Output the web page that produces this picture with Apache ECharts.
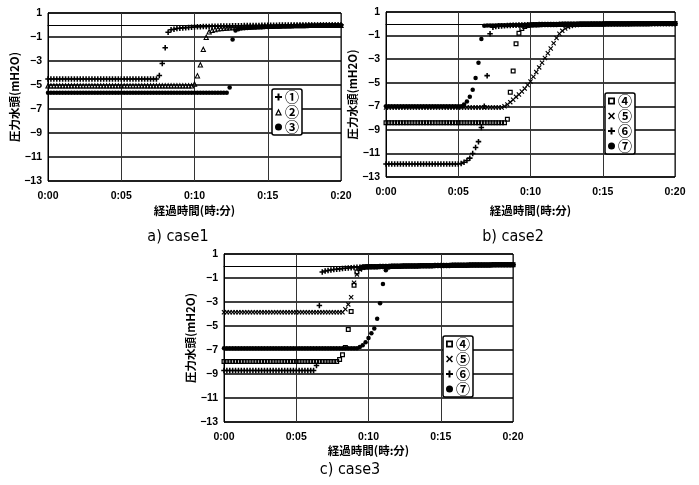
<!DOCTYPE html>
<html><head><meta charset="utf-8">
<script src="https://cdn.jsdelivr.net/npm/echarts@6/dist/echarts.min.js"></script>
<style>html,body{margin:0;padding:0;background:#fff}#c{width:699px;height:485px}</style>
</head><body><div id="c"></div>
<script>
// sample times in minutes (x axis 0:00 - 0:20)
const MINUTES = [
 0,0.2,0.4,0.6,0.8,1,1.2,1.4,1.6,1.8,
 2,2.2,2.4,2.6,2.8,3,3.2,3.4,3.6,3.8,
 4,4.2,4.4,4.6,4.8,5,5.2,5.4,5.6,5.8,
 6,6.2,6.4,6.6,6.8,7,7.2,7.4,7.6,7.8,
 8,8.2,8.4,8.6,8.8,9,9.2,9.4,9.6,9.8,
 10,10.2,10.4,10.6,10.8,11,11.2,11.4,11.6,11.8,
 12,12.2,12.4,12.6,12.8,13,13.2,13.4,13.6,13.8,
 14,14.2,14.4,14.6,14.8,15,15.2,15.4,15.6,15.8,
 16,16.2,16.4,16.6,16.8,17,17.2,17.4,17.6,17.8,
 18,18.2,18.4,18.6,18.8,19,19.2,19.4,19.6,19.8,
 20];
const X_TICKS = ['0:00','0:05','0:10','0:15','0:20'];
const Y_TICKS = [1,-1,-3,-5,-7,-9,-11,-13];

// ---- case1 ----
const C1_S1 = [ // ① +
 -4.5,-4.5,-4.5,-4.5,-4.5,-4.5,-4.5,-4.5,-4.5,-4.5,
 -4.5,-4.5,-4.5,-4.5,-4.5,-4.5,-4.5,-4.5,-4.5,-4.5,
 -4.5,-4.5,-4.5,-4.5,-4.5,-4.5,-4.5,-4.5,-4.5,-4.5,
 -4.5,-4.5,-4.5,-4.5,-4.5,-4.5,-4.5,-4.5,-4.2,-3.2,
 -1.9,-0.6,-0.4,-0.35,-0.3,-0.27,-0.24,-0.22,-0.2,-0.18,
 -0.16,-0.15,-0.14,-0.13,-0.12,-0.12,-0.11,-0.1,-0.1,-0.09,
 -0.09,-0.08,-0.08,-0.07,-0.07,-0.06,-0.06,-0.05,-0.05,-0.05,
 -0.04,-0.04,-0.04,-0.03,-0.03,-0.03,-0.02,-0.02,-0.02,-0.01,
 -0.01,-0.01,-0.01,0,0,0,0,0,0,0.01,
 0.01,0.01,0.01,0.01,0.01,0.01,0.01,0.01,0.01,0.01,
 0.01];
const C1_S2 = [ // ② triangle
 -5.05,-5.05,-5.05,-5.05,-5.05,-5.05,-5.05,-5.05,-5.05,-5.05,
 -5.05,-5.05,-5.05,-5.05,-5.05,-5.05,-5.05,-5.05,-5.05,-5.05,
 -5.05,-5.05,-5.05,-5.05,-5.05,-5.05,-5.05,-5.05,-5.05,-5.05,
 -5.05,-5.05,-5.05,-5.05,-5.05,-5.05,-5.05,-5.05,-5.05,-5.05,
 -5.05,-5.05,-5.05,-5.05,-5.05,-5.05,-5.05,-5.05,-5.05,-5.05,
 -4.9,-4.2,-3.3,-2.0,-1.0,-0.55,-0.42,-0.35,-0.3,-0.27,
 -0.24,-0.22,-0.2,-0.19,-0.18,-0.17,-0.16,-0.15,-0.14,-0.13,
 -0.12,-0.11,-0.1,-0.1,-0.09,-0.08,-0.08,-0.07,-0.06,-0.06,
 -0.05,-0.05,-0.04,-0.04,-0.03,-0.03,-0.02,-0.02,-0.02,-0.01,
 -0.01,-0.01,-0.01,0,0,0,0,0,0,0,
 0];
const C1_S3 = [ // ③ dot
 -5.65,-5.65,-5.65,-5.65,-5.65,-5.65,-5.65,-5.65,-5.65,-5.65,
 -5.65,-5.65,-5.65,-5.65,-5.65,-5.65,-5.65,-5.65,-5.65,-5.65,
 -5.65,-5.65,-5.65,-5.65,-5.65,-5.65,-5.65,-5.65,-5.65,-5.65,
 -5.65,-5.65,-5.65,-5.65,-5.65,-5.65,-5.65,-5.65,-5.65,-5.65,
 -5.65,-5.65,-5.65,-5.65,-5.65,-5.65,-5.65,-5.65,-5.65,-5.65,
 -5.65,-5.65,-5.65,-5.65,-5.65,-5.65,-5.65,-5.65,-5.65,-5.65,
 -5.65,-5.65,-5.2,-1.2,-0.45,-0.35,-0.3,-0.27,-0.25,-0.23,
 -0.21,-0.2,-0.19,-0.18,-0.17,-0.16,-0.15,-0.14,-0.13,-0.12,
 -0.11,-0.1,-0.09,-0.08,-0.07,-0.06,-0.05,-0.05,-0.04,-0.03,
 -0.03,-0.02,-0.02,-0.01,-0.01,0,0,0,0,0,
 0];

// ---- case2 ----
const C2_S4 = [ // ④ square
 -8.4,-8.4,-8.4,-8.4,-8.4,-8.4,-8.4,-8.4,-8.4,-8.4,
 -8.4,-8.4,-8.4,-8.4,-8.4,-8.4,-8.4,-8.4,-8.4,-8.4,
 -8.4,-8.4,-8.4,-8.4,-8.4,-8.4,-8.4,-8.4,-8.4,-8.4,
 -8.4,-8.4,-8.4,-8.4,-8.4,-8.4,-8.4,-8.4,-8.4,-8.4,
 -8.4,-8.4,-8.1,-5.8,-4.0,-1.7,-0.8,-0.4,-0.22,-0.14,
 -0.1,-0.09,-0.08,-0.08,-0.07,-0.07,-0.06,-0.06,-0.05,-0.05,
 -0.05,-0.04,-0.04,-0.04,-0.03,-0.03,-0.03,-0.02,-0.02,-0.02,
 -0.02,-0.02,-0.01,-0.01,-0.01,-0.01,0,0,0,0,
 0,0,0,0,0.01,0.01,0.01,0.01,0.01,0.01,
 0.01,0.01,0.02,0.02,0.02,0.02,0.02,0.02,0.02,0.02,
 0.02];
const C2_S5 = [ // ⑤ cross
 -7.1,-7.1,-7.1,-7.1,-7.1,-7.1,-7.1,-7.1,-7.1,-7.1,
 -7.1,-7.1,-7.1,-7.1,-7.1,-7.1,-7.1,-7.1,-7.1,-7.1,
 -7.1,-7.1,-7.1,-7.1,-7.1,-7.1,-7.1,-7.1,-7.1,-7.1,
 -7.1,-7.1,-7.1,-7.1,-7.1,-7.1,-7.1,-7.1,-7.1,-7.1,
 -7.1,-7.0,-6.85,-6.65,-6.45,-6.2,-6.0,-5.75,-5.5,-5.2,
 -4.9,-4.5,-4.1,-3.7,-3.3,-2.9,-2.5,-2.1,-1.65,-1.2,
 -0.85,-0.6,-0.4,-0.27,-0.18,-0.12,-0.1,-0.08,-0.07,-0.06,
 -0.05,-0.05,-0.04,-0.04,-0.04,-0.03,-0.03,-0.03,-0.02,-0.02,
 -0.02,-0.02,-0.01,-0.01,-0.01,-0.01,0,0,0,0,
 0,0,0,0,0,0.01,0.01,0.01,0.01,0.01,
 0.01];
const C2_S6 = [ // ⑥ plus
 -11.9,-11.9,-11.9,-11.9,-11.9,-11.9,-11.9,-11.9,-11.9,-11.9,
 -11.9,-11.9,-11.9,-11.9,-11.9,-11.9,-11.9,-11.9,-11.9,-11.9,
 -11.9,-11.9,-11.9,-11.9,-11.9,-11.9,-11.85,-11.75,-11.6,-11.4,
 -11.0,-10.5,-10.0,-8.8,-7.0,-4.4,-0.85,-0.3,-0.22,-0.2,
 -0.18,-0.16,-0.15,-0.14,-0.13,-0.12,-0.11,-0.1,-0.1,-0.09,
 -0.09,-0.08,-0.08,-0.07,-0.07,-0.06,-0.06,-0.05,-0.05,-0.05,
 -0.04,-0.04,-0.04,-0.04,-0.04,-0.03,-0.03,-0.03,-0.03,-0.03,
 -0.03,-0.02,-0.02,-0.02,-0.02,-0.02,-0.02,-0.02,-0.02,-0.01,
 -0.01,-0.01,-0.01,-0.01,-0.01,0,0,0,0,0,
 0,0,0,0,0,0,0.01,0.01,0.01,0.01,
 0.01];
const C2_S7 = [ // ⑦ dot
 -7.0,-7.0,-7.0,-7.0,-7.0,-7.0,-7.0,-7.0,-7.0,-7.0,
 -7.0,-7.0,-7.0,-7.0,-7.0,-7.0,-7.0,-7.0,-7.0,-7.0,
 -7.0,-7.0,-7.0,-7.0,-7.0,-7.0,-7.0,-6.85,-6.6,-6.2,
 -5.6,-4.6,-3.3,-1.3,-0.16,-0.15,-0.15,-0.14,-0.14,-0.13,
 -0.13,-0.12,-0.12,-0.11,-0.11,-0.1,-0.1,-0.1,-0.09,-0.09,
 -0.09,-0.08,-0.08,-0.08,-0.07,-0.07,-0.07,-0.06,-0.06,-0.06,
 -0.05,-0.05,-0.05,-0.05,-0.05,-0.04,-0.04,-0.04,-0.04,-0.04,
 -0.04,-0.03,-0.03,-0.03,-0.03,-0.03,-0.02,-0.02,-0.02,-0.02,
 -0.02,-0.01,-0.01,-0.01,-0.01,-0.01,0,0,0,0,
 0,0,0,0,0,0,0,0.01,0.01,0.01,
 0.01];

// ---- case3 ----
const C3_S4 = [ // ④ square
 -7.95,-7.95,-7.95,-7.95,-7.95,-7.95,-7.95,-7.95,-7.95,-7.95,
 -7.95,-7.95,-7.95,-7.95,-7.95,-7.95,-7.95,-7.95,-7.95,-7.95,
 -7.95,-7.95,-7.95,-7.95,-7.95,-7.95,-7.95,-7.95,-7.95,-7.95,
 -7.95,-7.95,-7.95,-7.95,-7.95,-7.95,-7.95,-7.95,-7.95,-7.95,
 -7.8,-7.4,-6.8,-5.3,-3.8,-1.6,-0.5,-0.2,-0.1,-0.07,
 -0.07,-0.07,-0.06,-0.06,-0.05,-0.05,-0.04,-0.04,-0.03,-0.03,
 -0.02,-0.02,-0.01,-0.01,0,0,0.01,0.01,0.02,0.02,
 0.03,0.03,0.03,0.04,0.04,0.04,0.05,0.05,0.05,0.06,
 0.06,0.06,0.07,0.07,0.07,0.08,0.08,0.08,0.08,0.09,
 0.09,0.09,0.09,0.1,0.1,0.1,0.1,0.1,0.11,0.11,
 0.11];
const C3_S5 = [ // ⑤ cross
 -3.85,-3.85,-3.85,-3.85,-3.85,-3.85,-3.85,-3.85,-3.85,-3.85,
 -3.85,-3.85,-3.85,-3.85,-3.85,-3.85,-3.85,-3.85,-3.85,-3.85,
 -3.85,-3.85,-3.85,-3.85,-3.85,-3.85,-3.85,-3.85,-3.85,-3.85,
 -3.85,-3.85,-3.85,-3.85,-3.85,-3.85,-3.85,-3.85,-3.85,-3.85,
 -3.85,-3.85,-3.6,-3.2,-2.6,-1.4,-0.7,-0.3,-0.15,-0.1,
 -0.08,-0.07,-0.06,-0.06,-0.05,-0.05,-0.04,-0.04,-0.03,-0.03,
 -0.02,-0.02,-0.01,-0.01,0,0,0.01,0.01,0.02,0.02,
 0.02,0.03,0.03,0.04,0.04,0.04,0.05,0.05,0.05,0.06,
 0.06,0.06,0.06,0.07,0.07,0.07,0.08,0.08,0.08,0.08,
 0.09,0.09,0.09,0.09,0.1,0.1,0.1,0.1,0.1,0.11,
 0.11];
const C3_S6 = [ // ⑥ plus
 -8.7,-8.7,-8.7,-8.7,-8.7,-8.7,-8.7,-8.7,-8.7,-8.7,
 -8.7,-8.7,-8.7,-8.7,-8.7,-8.7,-8.7,-8.7,-8.7,-8.7,
 -8.7,-8.7,-8.7,-8.7,-8.7,-8.7,-8.7,-8.7,-8.7,-8.7,
 -8.7,-8.7,-8.3,-3.3,-0.5,-0.42,-0.38,-0.34,-0.3,-0.27,
 -0.24,-0.21,-0.19,-0.17,-0.15,-0.13,-0.11,-0.1,-0.09,-0.08,
 -0.07,-0.07,-0.06,-0.06,-0.05,-0.05,-0.04,-0.04,-0.03,-0.03,
 -0.02,-0.02,-0.01,-0.01,0,0,0.01,0.01,0.02,0.02,
 0.03,0.03,0.03,0.04,0.04,0.04,0.05,0.05,0.05,0.06,
 0.06,0.06,0.07,0.07,0.07,0.08,0.08,0.08,0.08,0.09,
 0.09,0.09,0.09,0.1,0.1,0.1,0.1,0.1,0.11,0.11,
 0.11];
const C3_S7 = [ // ⑦ dot
 -6.85,-6.85,-6.85,-6.85,-6.85,-6.85,-6.85,-6.85,-6.85,-6.85,
 -6.85,-6.85,-6.85,-6.85,-6.85,-6.85,-6.85,-6.85,-6.85,-6.85,
 -6.85,-6.85,-6.85,-6.85,-6.85,-6.85,-6.85,-6.85,-6.85,-6.85,
 -6.85,-6.85,-6.85,-6.85,-6.85,-6.85,-6.85,-6.85,-6.85,-6.85,
 -6.85,-6.85,-6.85,-6.85,-6.85,-6.85,-6.85,-6.75,-6.6,-6.35,
 -6.0,-5.6,-5.2,-4.4,-3.1,-1.5,-0.35,-0.12,-0.05,-0.04,
 -0.03,-0.03,-0.02,-0.02,-0.01,0,0,0.01,0.01,0.02,
 0.02,0.03,0.03,0.03,0.04,0.04,0.05,0.05,0.05,0.06,
 0.06,0.06,0.07,0.07,0.07,0.07,0.08,0.08,0.08,0.09,
 0.09,0.09,0.09,0.1,0.1,0.1,0.1,0.1,0.11,0.11,
 0.11];

const LABELS = {a1:'①',a2:'②',a3:'③',b4:'④',b5:'⑤',b6:'⑥',b7:'⑦',c4:'④',c5:'⑤',c6:'⑥',c7:'⑦'};

const SYM_PLUS  = 'path://M3.6,0H6.4V3.6H10V6.4H6.4V10H3.6V6.4H0V3.6H3.6Z';
const SYM_CROSS = 'path://M0,1.6L1.6,0L5,3.4L8.4,0L10,1.6L6.6,5L10,8.4L8.4,10L5,6.6L1.6,10L0,8.4L3.4,5Z';
const SYM_SQ    = 'path://M0,0H10V10H0Z M2.5,2.5V7.5H7.5V2.5Z';
const SYM_TRI   = 'path://M5,0L10,10H0Z M5,4L2.8,8.3H7.2Z';

const FONT = '"Liberation Sans", Arial, sans-serif';
const CJK = '"Noto Sans CJK JP", sans-serif';

function mk(name, idx, vals, symbol, size) {
  return {
    name: name, type: 'scatter', xAxisIndex: idx, yAxisIndex: idx,
    symbol: symbol, symbolSize: size, itemStyle: {color: '#000', opacity: 1},
    data: MINUTES.map((t, i) => [t, vals[i]]), animation: false, silent: true
  };
}

const grids = [
  {left: 48, top: 13, width: 293, height: 168},
  {left: 386, top: 12, width: 289, height: 165},
  {left: 224, top: 254, width: 289, height: 168}
];
const nameGaps = [24, 28, 23];

function xAxis(i) {
  return {
    gridIndex: i, type: 'value', min: 0, max: 20, interval: 5,
    name: '経過時間(時:分)', nameLocation: 'middle', nameGap: nameGaps[i],
    nameTextStyle: {fontFamily: CJK, fontWeight: 'bold', fontSize: 11.5, color: '#000'},
    axisLine: {show: true, lineStyle: {color: '#000', width: 1}},
    axisTick: {show: false},
    axisLabel: {color: '#000', fontFamily: FONT, fontWeight: 'bold', fontSize: 10.5, margin: 10,
      formatter: v => X_TICKS[Math.round(v / 5)]},
    splitLine: {show: true, lineStyle: {color: '#333', width: 1}}
  };
}
function yAxis(i) {
  return {
    gridIndex: i, type: 'value', min: Y_TICKS[Y_TICKS.length - 1], max: Y_TICKS[0], interval: 2,
    name: '圧力水頭(mH2O)', nameLocation: 'middle', nameGap: 28,
    nameTextStyle: {fontFamily: CJK, fontWeight: 'bold', fontSize: 11.5, color: '#000'},
    axisLine: {show: true, lineStyle: {color: '#000', width: 1}},
    axisTick: {show: false},
    axisLabel: {color: '#000', fontFamily: FONT, fontWeight: 'bold', fontSize: 10.5, margin: 6,
      formatter: v => String(v).replace('-', '−')},
    splitLine: {show: true, lineStyle: {color: '#000', width: 1.5}}
  };
}
function legend(names, left, top) {
  return {
    data: names, orient: 'vertical', left: left, top: top,
    itemWidth: 7, itemHeight: 7, itemGap: 1, padding: [1, 3, 1, 3],
    borderColor: '#000', borderWidth: 1.5, borderRadius: 2, backgroundColor: '#fff',
    selectedMode: false,
    formatter: n => LABELS[n],
    textStyle: {fontFamily: CJK, fontWeight: 'bold', fontSize: 14, color: '#000', lineHeight: 13, padding: [0, 0, 0, -2]}
  };
}

const chart = echarts.init(document.getElementById('c'), null, {renderer: 'canvas'});
chart.setOption({
  backgroundColor: '#fff',
  animation: false,
  grid: grids.map(g => Object.assign({show: true, borderColor: '#000', borderWidth: 1, backgroundColor: 'transparent'}, g)),
  xAxis: [xAxis(0), xAxis(1), xAxis(2)],
  yAxis: [yAxis(0), yAxis(1), yAxis(2)],
  legend: [
    legend(['a1', 'a2', 'a3'], 272, 89),
    legend(['b4', 'b5', 'b6', 'b7'], 605, 93),
    legend(['c4', 'c5', 'c6', 'c7'], 443, 336)
  ],
  graphic: [
    {type: 'text', x: 178, y: 237, style: {text: 'a) case1', align: 'center', verticalAlign: 'middle', font: '16px "DejaVu Sans Condensed", "DejaVu Sans", sans-serif', fill: '#000'}},
    {type: 'text', x: 513, y: 237, style: {text: 'b) case2', align: 'center', verticalAlign: 'middle', font: '16px "DejaVu Sans Condensed", "DejaVu Sans", sans-serif', fill: '#000'}},
    {type: 'text', x: 350, y: 470, style: {text: 'c) case3', align: 'center', verticalAlign: 'middle', font: '16px "DejaVu Sans Condensed", "DejaVu Sans", sans-serif', fill: '#000'}}
  ],
  series: [
    mk('a3', 0, C1_S3, 'circle', 4.5),
    mk('a2', 0, C1_S2, SYM_TRI, 6),
    mk('a1', 0, C1_S1, SYM_PLUS, 5.5),
    mk('b7', 1, C2_S7, 'circle', 4.5),
    mk('b4', 1, C2_S4, SYM_SQ, 5),
    mk('b5', 1, C2_S5, SYM_CROSS, 5),
    mk('b6', 1, C2_S6, SYM_PLUS, 5.5),
    mk('c7', 2, C3_S7, 'circle', 4.5),
    mk('c4', 2, C3_S4, SYM_SQ, 5),
    mk('c5', 2, C3_S5, SYM_CROSS, 5),
    mk('c6', 2, C3_S6, SYM_PLUS, 5.5)
  ]
});
</script></body></html>
